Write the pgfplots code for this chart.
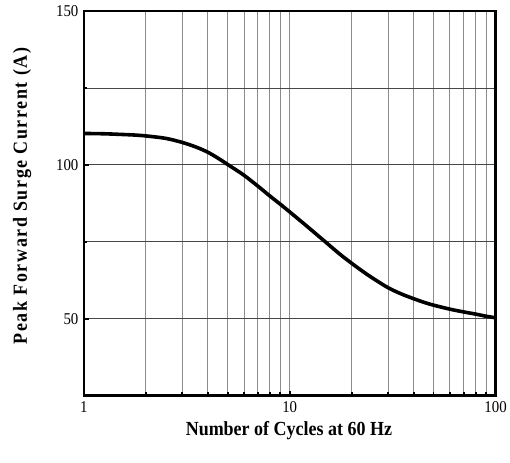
\documentclass[border=0pt]{standalone}
\usepackage{pgfplots}
\pgfplotsset{compat=1.18}
\usepackage{fontspec}
\setmainfont{Liberation Serif}[FakeStretch=0.9]
\newfontfamily\ylabfont{Liberation Serif}[FakeStretch=0.9, LetterSpace=8]

\begin{document}
\begin{tikzpicture}
\begin{axis}[
    name=ax,
    scale only axis,
    width=412pt, height=385pt,
    xmode=log,
    xmin=1, xmax=100,
    ymin=25, ymax=150,
    xtick={1,10,100},
    xticklabels={1,10,100},
    ytick={50,100,150},
    minor ytick={75,125},
    tick pos=left,
    tick align=inside,
    grid=both,
    major x grid style={line width=0.8pt, black!45},
    minor x grid style={line width=0.8pt, black!45},
    major y grid style={line width=0.8pt, black!72},
    minor y grid style={line width=0.8pt, black!72},
    major tick length=5pt,
    minor tick length=3.5pt,
    every tick/.style={black, line width=1.8pt},
    /pgf/number format/assume math mode=true,
    tick label style={font=\fontsize{16.5}{19}\selectfont},
    xticklabel style={yshift=-2pt},
    yticklabel style={xshift=-2pt},
    xlabel={Number of Cycles at 60 Hz},
    ylabel={Peak Forward Surge Current (A)},
    xlabel style={font=\fontsize{20}{24}\selectfont\bfseries,
        at={(axis description cs:0.498,-0.104)}, anchor=base},
    ylabel style={font=\ylabfont\fontsize{20}{24}\selectfont\bfseries,
        at={(axis description cs:-0.150,0.519)}, anchor=center},
]
\addplot[black, line width=3.6pt, smooth, tension=0.5] coordinates {
    (1,110.2)(1.25,110.1)(1.5,109.9)(1.75,109.7)(2,109.4)(2.5,108.6)
    (3,107.3)(3.5,105.8)(4,104.1)(4.5,102.1)(5,100.1)(5.5,98.3)
    (6,96.6)(7,93.1)(8,89.9)(9,87.2)(10,84.7)(11,82.4)(12,80.3)
    (13.5,77.4)(15,74.8)(17.5,71.0)(20,68.0)(22.5,65.5)(25,63.4)
    (30,60.1)(35,58.0)(40,56.5)(45,55.3)(50,54.4)(60,53.1)(70,52.2)
    (80,51.5)(90,50.8)(100,50.3)
};
\end{axis}
\draw[line width=2.8pt, black] (ax.south west) rectangle (ax.north east);
\path (-84pt,-67pt) rectangle (426pt,396pt);
\end{tikzpicture}
\end{document}
